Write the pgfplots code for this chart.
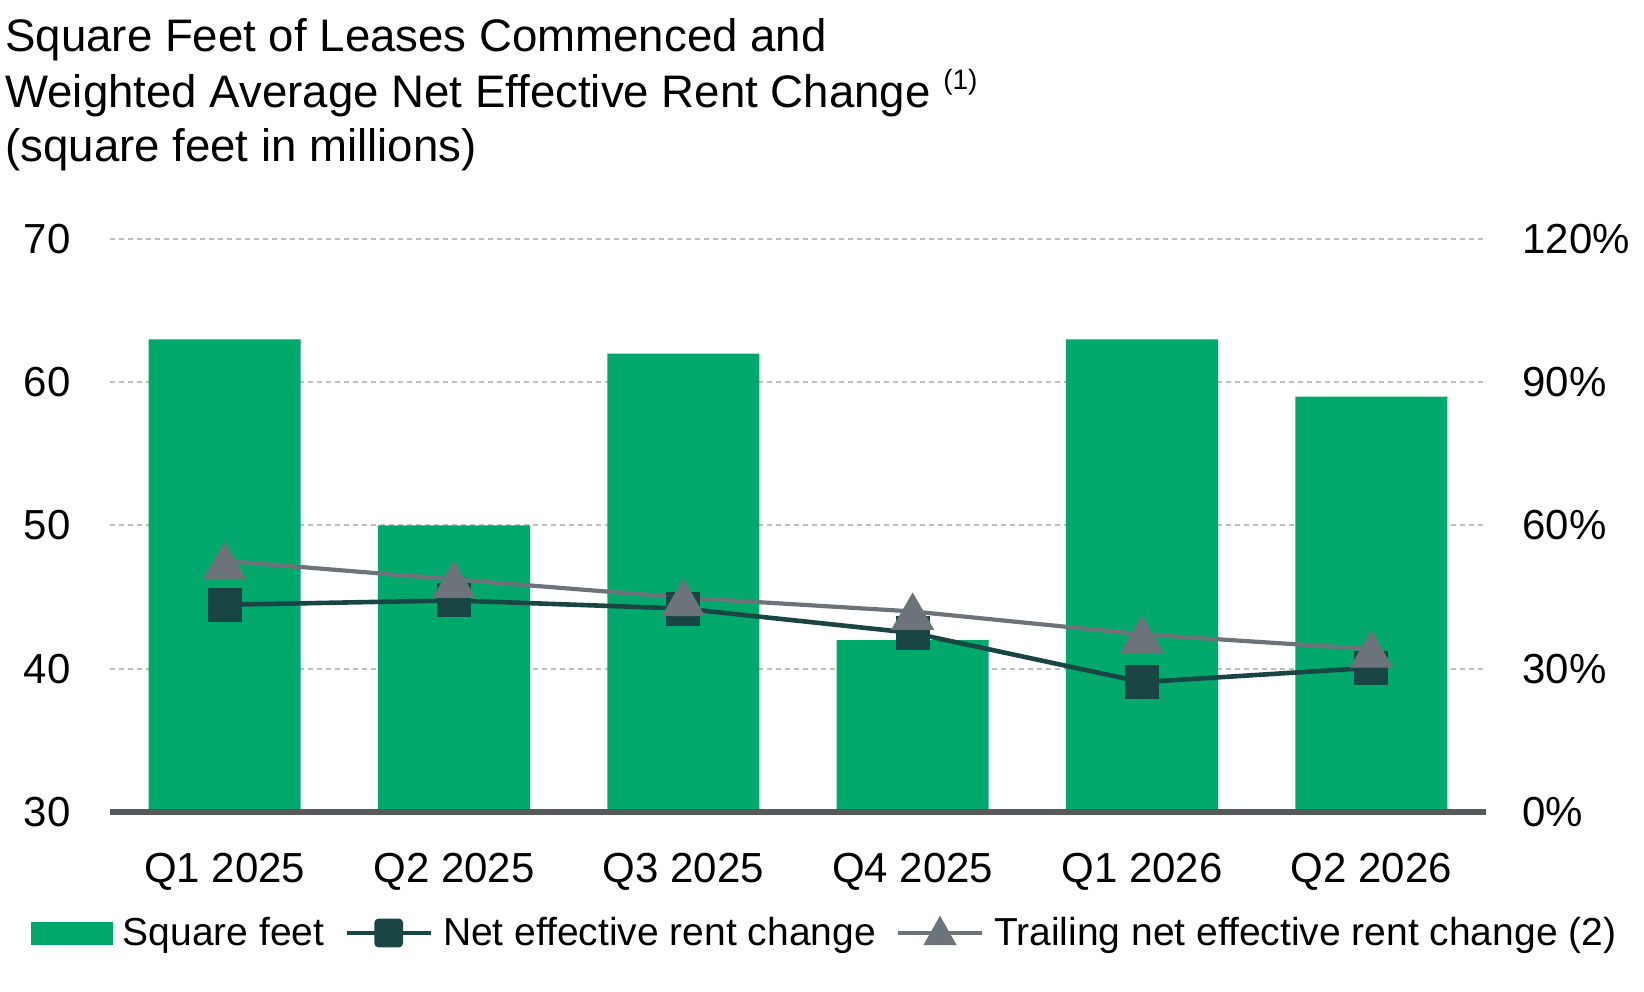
\documentclass[border=0pt]{standalone}
\usepackage{pgfplots}
\pgfplotsset{compat=1.18}
\usepackage{fontspec}
\setmainfont{Liberation Sans}
\definecolor{barcol}{RGB}{0,168,107}
\definecolor{netcol}{RGB}{25,70,68}
\definecolor{trailcol}{RGB}{108,115,122}
\definecolor{basecol}{RGB}{88,89,91}
\definecolor{gridcol}{RGB}{191,191,191}
\begin{document}
\begin{tikzpicture}[x=1pt,y=1pt]
\path[use as bounding box] (0,0) rectangle (822,495.5);
\node[anchor=base west, inner sep=0pt, font=\fontsize{22.8}{27}\selectfont] at (2.5,469.5) {Square Feet of Leases Commenced and};
\node[anchor=base west, inner sep=0pt, font=\fontsize{22.8}{27}\selectfont] at (2.5,441.5) {Weighted Average Net Effective Rent Change \raisebox{9pt}{\fontsize{14}{14}\selectfont(1)}};
\node[anchor=base west, inner sep=0pt, font=\fontsize{22.8}{27}\selectfont] at (2.5,414.5) {(square feet in millions)};

\begin{axis}[
  name=main,
  at={(55pt,89.5pt)}, anchor=south west,
  scale only axis, width=688pt, height=286.5pt,
  xmin=-0.5, xmax=5.5, ymin=30, ymax=70,
  xtick={0,1,2,3,4,5},
  xticklabels={Q1 2025,Q2 2025,Q3 2025,Q4 2025,Q1 2026,Q2 2026},
  ytick={30,40,50,60,70},
  axis x line*=bottom, axis y line*=left,
  x axis line style={draw=none},
  y axis line style={draw=none},
  major tick length=0pt,
  ymajorgrids,
  grid style={gridcol, line width=1pt, dash pattern=on 2.5pt off 2pt},
  tick label style={font=\fontsize{21}{25}\selectfont},
  /pgf/number format/assume math mode=true,
  yticklabel style={anchor=east, inner sep=0pt, xshift=-19.5pt},
  xticklabel style={anchor=base, inner sep=0pt, yshift=-35pt},
]
\addplot[ybar, bar width=76pt, bar shift=0pt, fill=barcol, draw=none]
  coordinates {(0,63) (1,50) (2,62) (3,42) (4,63) (5,59)};
\end{axis}
\draw[basecol, line width=3.3pt] (main.south west) -- (main.south east);

\begin{axis}[
  at={(55pt,89.5pt)}, anchor=south west,
  scale only axis, width=688pt, height=286.5pt,
  xmin=-0.5, xmax=5.5, ymin=0, ymax=120,
  axis x line=none, axis y line*=right,
  y axis line style={draw=none},
  major tick length=0pt,
  ytick={0,30,60,90,120},
  yticklabel={\pgfmathprintnumber{\tick}\%},
  tick label style={font=\fontsize{21}{25}\selectfont},
  /pgf/number format/assume math mode=true,
  yticklabel style={anchor=west, inner sep=0pt, xshift=18pt},
  clip=false,
  legend columns=3,
  legend cell align=left,
  legend style={at={(0,0)}, anchor=west, xshift=-39.5pt, yshift=-60.5pt,
    draw=none, fill=none, inner sep=0pt, outer sep=0pt,
    font=\fontsize{19.5}{23}\selectfont,
    nodes={inner sep=0pt},
    /tikz/every odd column/.append style={column sep=5pt},
    /tikz/every even column/.append style={column sep=10pt}},
]
\addlegendimage{legend image code/.code={\fill[barcol] (0pt,-5.5pt) rectangle (40.5pt,5.5pt);}}
\addlegendentry{Square feet}
\addplot[netcol, line width=2.3pt, mark=square*, mark size=8.25pt,
  mark options={fill=netcol, draw=netcol, line width=0.5pt, rounded corners=1.5pt},
  legend image code/.code={\draw[line width=2.3pt] (0pt,0pt) -- (42pt,0pt);
     \fill[netcol, rounded corners=1pt] (15pt,-6pt) rectangle (27pt,6pt);}]
  coordinates {(0,43.4) (1,44.3) (2,42.6) (3,37.5) (4,27.2) (5,30.2)};
\addlegendentry{Net effective rent change}
\addplot[trailcol, line width=2.1pt, mark=triangle*, mark size=12pt,
  mark options={fill=trailcol, draw=trailcol, line width=0.5pt, yshift=-3pt},
  legend image code/.code={\draw[line width=2.1pt] (0pt,0pt) -- (42pt,0pt);
     \fill[trailcol] (14.5pt,-5pt) -- (27.5pt,-5pt) -- (21pt,6.5pt) -- cycle;}]
  coordinates {(0,52.6) (1,48.7) (2,44.9) (3,42.0) (4,37.2) (5,34.1)};
\addlegendentry{Trailing net effective rent change (2)}
\end{axis}
\end{tikzpicture}
\end{document}
